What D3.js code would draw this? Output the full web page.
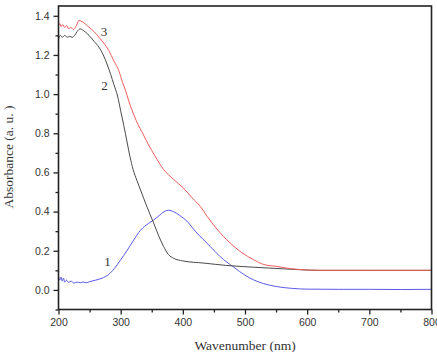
<!DOCTYPE html>
<html>
<head>
<meta charset="utf-8">
<script src="https://cdn.jsdelivr.net/npm/d3@7"></script>
<style>
  body { margin: 0; background: #fff; }
  svg { display: block; }
</style>
</head>
<body>
<main></main>
<script>
// curve 1 (blue)
var wl1 = [200, 202, 204, 206, 208, 210, 213, 216, 220, 225, 230, 235, 240, 245, 250,
           260, 270, 280, 290, 300, 310, 320, 332, 345, 353, 362, 370, 377, 385, 395,
           407, 420, 432, 444, 460, 482, 500, 514, 530, 551, 575, 600, 650, 700, 750, 800];
var abs1 = [0.07, 0.05, 0.065, 0.045, 0.06, 0.04, 0.05, 0.038, 0.045, 0.035, 0.04, 0.037, 0.04, 0.037, 0.042,
            0.05, 0.06, 0.077, 0.11, 0.154, 0.2, 0.25, 0.305, 0.34, 0.357, 0.38, 0.4, 0.407, 0.4, 0.38,
            0.35, 0.3, 0.26, 0.222, 0.17, 0.116, 0.075, 0.051, 0.032, 0.017, 0.008, 0.004, 0.003, 0.003, 0.002, 0.003];

// curve 2 (black)
var wl2 = [200, 203, 206, 210, 214, 218, 222, 226, 230, 235, 240, 249, 257, 265, 272,
           278, 284, 289, 295, 300, 305, 310, 315, 320, 326, 332, 342, 353, 362, 369,
           377, 385, 400, 434, 470, 514, 560, 621, 700, 800];
var abs2 = [1.28, 1.30, 1.29, 1.30, 1.29, 1.295, 1.29, 1.30, 1.32, 1.333, 1.325, 1.30, 1.27, 1.24, 1.20,
            1.154, 1.10, 1.05, 0.99, 0.915, 0.84, 0.76, 0.68, 0.615, 0.56, 0.51, 0.427, 0.342, 0.27, 0.222,
            0.18, 0.162, 0.148, 0.137, 0.125, 0.116, 0.108, 0.10, 0.10, 0.10];

// curve 3 (red)
var wl3 = [200, 202, 204, 207, 210, 213, 216, 220, 224, 228, 233, 238, 249, 257, 265,
           273, 281, 289, 297, 303, 308, 313, 318, 325, 337, 345, 355, 369, 385, 401,
           415, 428, 439, 455, 476, 495, 514, 530, 551, 575, 594, 620, 700, 800];
var abs3 = [1.35, 1.36, 1.345, 1.355, 1.34, 1.35, 1.335, 1.34, 1.33, 1.345, 1.376, 1.37, 1.342, 1.32, 1.29,
            1.26, 1.222, 1.17, 1.12, 1.06, 1.017, 0.965, 0.92, 0.865, 0.79, 0.74, 0.685, 0.615, 0.565, 0.52,
            0.47, 0.427, 0.376, 0.31, 0.24, 0.19, 0.154, 0.13, 0.12, 0.108, 0.103, 0.10, 0.10, 0.10];

var curveLabels = ["1", "2", "3"];
var labelPos = [[279, 0.148], [274, 1.048], [273, 1.32]];

var xTicks = [200, 300, 400, 500, 600, 700, 800];
var yTicks = [0.0, 0.2, 0.4, 0.6, 0.8, 1.0, 1.2, 1.4];

// plot box (window.top is reserved, so no plain "top" here)
var w = 437,
    h = 352,
    padL = 58.5,
    padR = 431.5,
    padT = 6,
    padB = 309.5;

var svg = d3.select("main")
            .append("svg")
            .attr("width", w)
            .attr("height", h);

var x = d3.scaleLinear().domain([200, 800]).range([padL, padR]);
var y = d3.scaleLinear().domain([-0.1, 1.45]).range([padB, padT]);

var series = [
  {wl: wl1, abs: abs1, color: "#5a5ae8"},
  {wl: wl2, abs: abs2, color: "#4a4a4a"},
  {wl: wl3, abs: abs3, color: "#ee5c5c"}
];

var line = d3.line()
             .x(function (d) { return x(d[0]); })
             .y(function (d) { return y(d[1]); })
             .curve(d3.curveMonotoneX);

series.forEach(function (s) {
  svg.append("path")
     .datum(d3.zip(s.wl, s.abs))
     .attr("d", line)
     .attr("fill", "none")
     .attr("stroke", s.color)
     .attr("stroke-width", 1);
});

// curve numbers
svg.selectAll("text.num")
   .data(curveLabels)
   .enter()
   .append("text")
   .attr("class", "num")
   .text(function (d) { return d; })
   .attr("x", function (d, i) { return x(labelPos[i][0]); })
   .attr("y", function (d, i) { return y(labelPos[i][1]) + 5; })
   .attr("text-anchor", "middle")
   .style("font-family", "'Liberation Serif', 'Times New Roman', serif")
   .style("font-size", "13px")
   .attr("fill", "#333");

// axes: major and minor ticks
var xAxis = d3.axisBottom(x).tickValues(xTicks).tickSize(5).tickPadding(4)
              .tickFormat(d3.format("d"));
var xMinor = d3.axisBottom(x).tickValues(d3.range(250, 800, 100)).tickSize(3).tickFormat("");
var yAxis = d3.axisLeft(y).tickValues(yTicks).tickSize(5).tickPadding(4)
              .tickFormat(d3.format(".1f"));
var yMinor = d3.axisLeft(y).tickValues(d3.range(-0.1, 1.45, 0.2)).tickSize(3).tickFormat("");

function styleAxis(g) {
  g.select(".domain").remove();
  g.selectAll("line").attr("stroke", "#222").attr("stroke-width", 1.3);
  g.selectAll("text")
   .style("font-family", "'Liberation Sans', Arial, sans-serif")
   .style("font-size", "10.5px")
   .attr("fill", "#333");
}

svg.append("g").attr("transform", "translate(0," + padB + ")").call(xAxis).call(styleAxis);
svg.append("g").attr("transform", "translate(0," + padB + ")").call(xMinor).call(styleAxis);
svg.append("g").attr("transform", "translate(" + padL + ",0)").call(yAxis).call(styleAxis);
svg.append("g").attr("transform", "translate(" + padL + ",0)").call(yMinor).call(styleAxis);

// frame
svg.append("rect")
   .attr("x", padL)
   .attr("y", padT)
   .attr("width", padR - padL)
   .attr("height", padB - padT)
   .attr("fill", "none")
   .attr("stroke", "#222")
   .attr("stroke-width", 1.6);

// axis titles
svg.append("text")
   .text("Wavenumber (nm)")
   .attr("x", (padL + padR) / 2)
   .attr("y", 350)
   .attr("text-anchor", "middle")
   .style("font-family", "'Liberation Serif', 'Times New Roman', serif")
   .style("font-size", "13.5px")
   .attr("fill", "#333");

svg.append("text")
   .text("Absorbance (a. u. )")
   .attr("transform", "translate(13," + 157 + ") rotate(-90)")
   .attr("text-anchor", "middle")
   .style("font-family", "'Liberation Serif', 'Times New Roman', serif")
   .style("font-size", "13.5px")
   .attr("fill", "#333");
</script>
</body>
</html>
